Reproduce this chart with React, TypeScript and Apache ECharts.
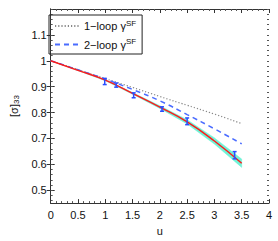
import React, { useEffect, useRef } from "react";
import * as echarts from "echarts";

const uGrid = [0, 0.5, 1, 1.5, 2, 2.5, 3, 3.5];
const fitValues = [1.0, 0.963, 0.925, 0.874, 0.821, 0.764, 0.69, 0.604];
const bandHalfWidth = [0, 0.001, 0.002, 0.003, 0.005, 0.008, 0.012, 0.016];
const oneLoop = [1.0, 0.966, 0.931, 0.897, 0.862, 0.828, 0.794, 0.757];
const twoLoop = [1.0, 0.965, 0.929, 0.889, 0.845, 0.792, 0.737, 0.679];
const errU = [0.99, 1.2, 1.52, 2.04, 2.5, 3.37];
const errLo = [0.908, 0.898, 0.857, 0.805, 0.753, 0.621];
const errHi = [0.932, 0.914, 0.876, 0.822, 0.779, 0.649];
const xTicks = [0, 0.5, 1, 1.5, 2, 2.5, 3, 3.5, 4];
const yTicks = [0.5, 0.6, 0.7, 0.8, 0.9, 1, 1.1];

export default function App() {
  const ref = useRef<HTMLDivElement>(null);
  useEffect(() => {
    if (!ref.current) return;
    const chart = echarts.init(ref.current, null, { renderer: "svg" });
    const font = "Liberation Sans";
    const yMinor: number[] = [];
    for (let i = 0; i <= 37; i++) yMinor.push(Math.round((0.46 + i * 0.02) * 100) / 100);
    const bandSegments = uGrid.slice(0, -1).map((u, i) => [
      u, fitValues[i] - bandHalfWidth[i], fitValues[i] + bandHalfWidth[i],
      uGrid[i + 1], fitValues[i + 1] - bandHalfWidth[i + 1], fitValues[i + 1] + bandHalfWidth[i + 1],
    ]);
    const axisCommon = {
      axisLine: { lineStyle: { color: "#333", width: 1 } },
      splitLine: { show: false },
    };
    chart.setOption({
      animation: false,
      grid: { left: 41, right: 9, top: 9, bottom: 29 },
      xAxis: [
        {
          type: "value", min: 0, max: 4, interval: 0.5, position: "bottom",
          ...axisCommon,
          axisTick: { inside: true, length: 4, lineStyle: { color: "#333" } },
          minorTick: { show: true, splitNumber: 5, length: 2, lineStyle: { color: "#555" } },
          axisLabel: { fontFamily: font, fontSize: 11, color: "#111", margin: 6,
            customValues: xTicks, formatter: (v: number) => String(v) },
          name: "u", nameLocation: "middle", nameGap: 20,
          nameTextStyle: { fontFamily: font, fontSize: 11, color: "#111" },
        },
        {
          type: "value", min: 0, max: 4, interval: 0.5, position: "top",
          ...axisCommon,
          axisTick: { inside: true, length: 4, lineStyle: { color: "#333" } },
          minorTick: { show: true, splitNumber: 5, length: 2, lineStyle: { color: "#555" } },
          axisLabel: { show: false },
        },
      ],
      yAxis: [
        {
          type: "value", min: 0.45, max: 1.2, position: "left",
          ...axisCommon,
          axisTick: { inside: true, length: 4, customValues: yTicks, lineStyle: { color: "#333" } },
          axisLabel: { fontFamily: font, fontSize: 11, color: "#111", margin: 4,
            customValues: yTicks, formatter: (v: number) => String(Math.round(v * 10) / 10) },
          name: "{a|[σ]}{b|33}", nameLocation: "middle", nameGap: 27, nameRotate: 90,
          nameTextStyle: { fontFamily: font, fontSize: 11, color: "#111",
            rich: { a: { fontFamily: font, fontSize: 11, color: "#111" },
                    b: { fontFamily: font, fontSize: 8, color: "#111", verticalAlign: "bottom", padding: [6, 0, 0, 0] } } },
        },
        {
          type: "value", min: 0.45, max: 1.2, position: "right",
          ...axisCommon,
          axisTick: { inside: true, length: 4, customValues: yTicks, lineStyle: { color: "#333" } },
          axisLabel: { show: false },
        },
        {
          type: "value", min: 0.45, max: 1.2, position: "left",
          axisLine: { show: false }, splitLine: { show: false },
          axisTick: { inside: true, length: 2, customValues: yMinor, lineStyle: { color: "#555" } },
          axisLabel: { show: false },
        },
        {
          type: "value", min: 0.45, max: 1.2, position: "right",
          axisLine: { show: false }, splitLine: { show: false },
          axisTick: { inside: true, length: 2, customValues: yMinor, lineStyle: { color: "#555" } },
          axisLabel: { show: false },
        },
      ],
      legend: {
        left: 49, top: 15, orient: "vertical",
        borderColor: "#222", borderWidth: 1, borderRadius: 0,
        padding: [4, 6, 4, 5], itemGap: 6, itemWidth: 24, itemHeight: 10,
        itemStyle: { opacity: 0 },
        data: ["1-loop", "2-loop"],
        formatter: (n: string) => (n === "1-loop" ? "1\u2212loop γ{s|SF}" : "2\u2212loop γ{s|SF}"),
        textStyle: { fontFamily: font, fontSize: 11, color: "#111",
          rich: { s: { fontFamily: font, fontSize: 8, color: "#111", verticalAlign: "top", padding: [0, 0, 6, 0] } } },
      },
      series: [
        {
          name: "band", type: "custom", data: bandSegments, silent: true, z: 1,
          renderItem: (params: any, api: any) => {
            const a = api.coord([api.value(0), api.value(1)]);
            const b = api.coord([api.value(3), api.value(4)]);
            const c = api.coord([api.value(3), api.value(5)]);
            const d = api.coord([api.value(0), api.value(2)]);
            return { type: "polygon", shape: { points: [a, b, c, d] },
              style: { fill: "#6ff2d6", stroke: "#6ff2d6", lineWidth: 0.5 } };
          },
        },
        { name: "1-loop", type: "line", data: uGrid.map((u, i) => [u, oneLoop[i]]), symbol: "none", smooth: true,
          lineStyle: { color: "#888", width: 1.2, type: [1.2, 2] }, itemStyle: { color: "#888" } },
        { name: "2-loop", type: "line", data: uGrid.map((u, i) => [u, twoLoop[i]]), symbol: "none", smooth: true,
          lineStyle: { color: "#4a6cff", width: 1.5, type: [5, 4] }, itemStyle: { color: "#4a6cff" } },
        { name: "fit", type: "line", data: uGrid.map((u, i) => [u, fitValues[i]]), symbol: "none", smooth: true,
          lineStyle: { color: "#ff1a1a", width: 1.5 }, z: 3 },
        {
          name: "err", type: "custom",
          data: errU.map((u, i) => [u, errLo[i], errHi[i]]),
          renderItem: (params: any, api: any) => {
            const lo = api.coord([api.value(0), api.value(1)]);
            const hi = api.coord([api.value(0), api.value(2)]);
            const st = { stroke: "#2a4dff", lineWidth: 1.5 };
            return {
              type: "group",
              children: [
                { type: "line", shape: { x1: lo[0], y1: lo[1], x2: hi[0], y2: hi[1] }, style: st },
                { type: "line", shape: { x1: lo[0] - 2, y1: lo[1], x2: lo[0] + 2, y2: lo[1] }, style: st },
                { type: "line", shape: { x1: hi[0] - 2, y1: hi[1], x2: hi[0] + 2, y2: hi[1] }, style: st },
              ],
            };
          },
          z: 5,
        },
      ],
    });
    return () => chart.dispose();
  }, []);
  return <div ref={ref} style={{ width: 278, height: 241, position: "absolute", left: 0, top: 0 }} />;
}
